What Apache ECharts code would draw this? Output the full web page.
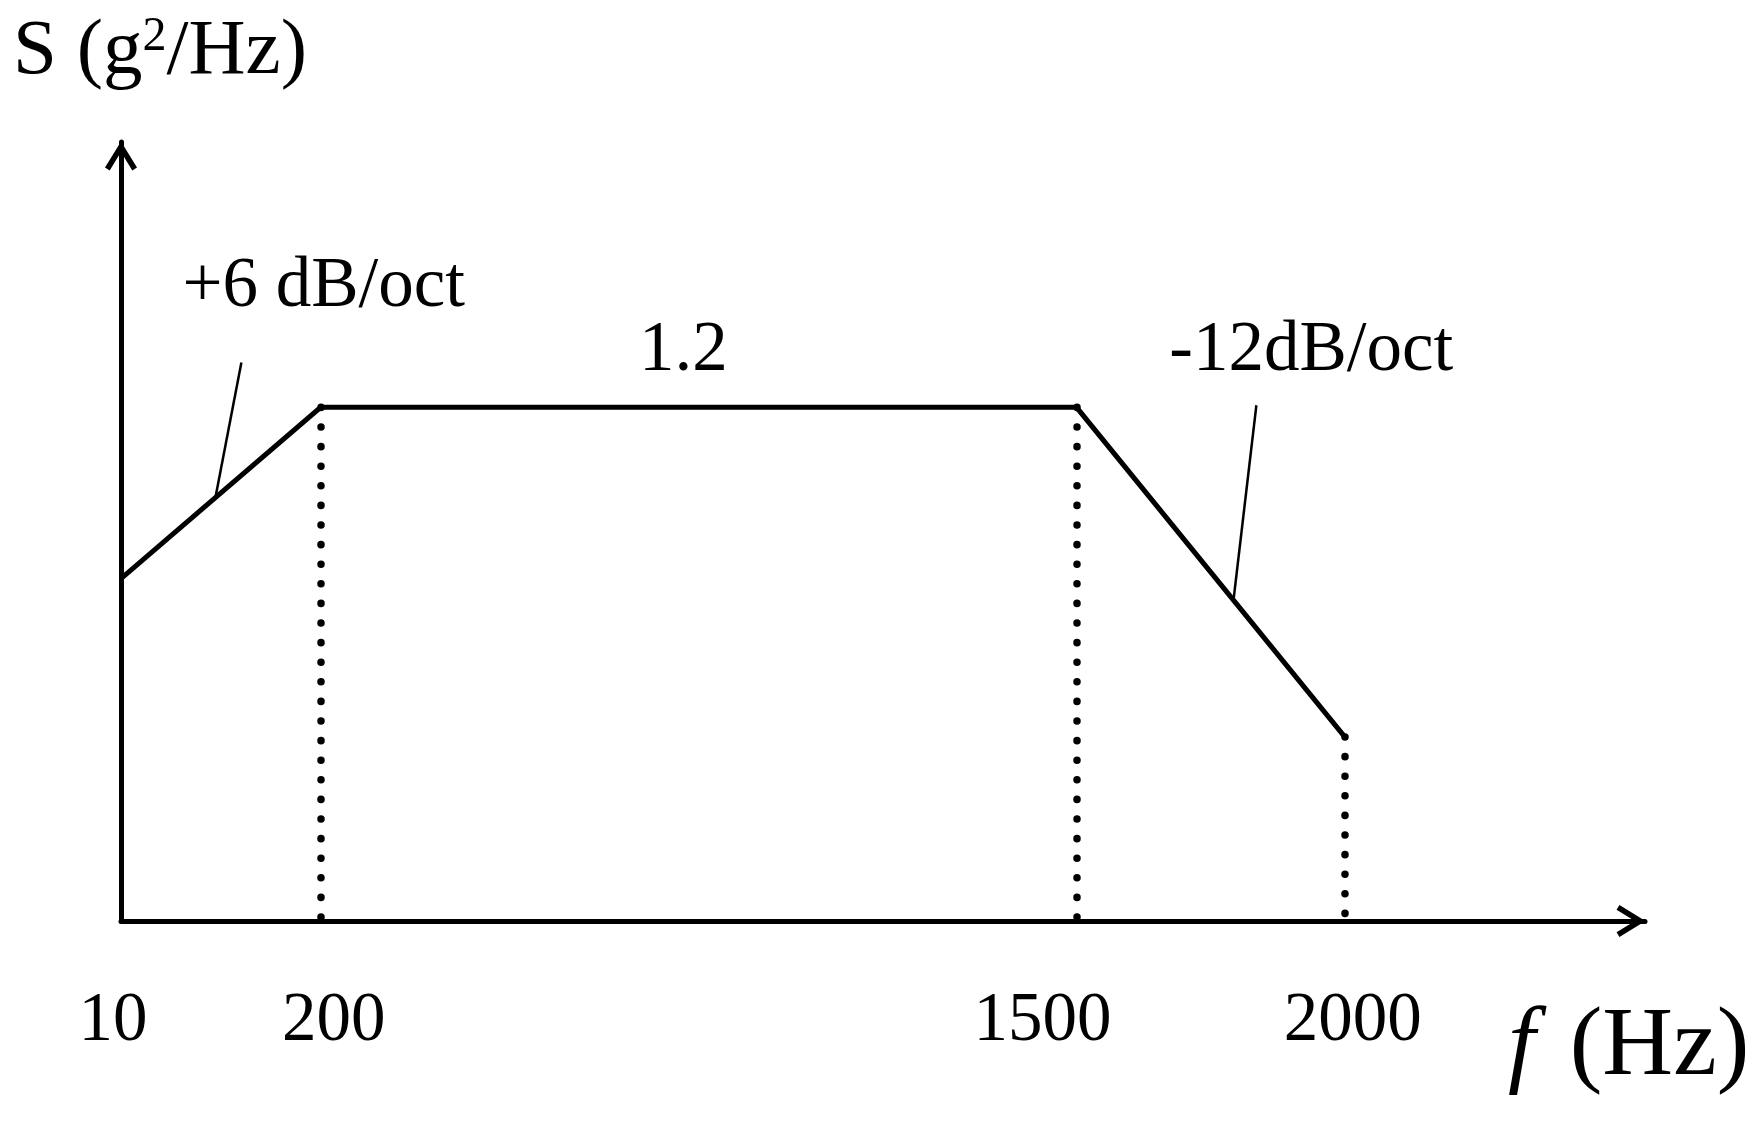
<!DOCTYPE html>
<html>
<head>
<meta charset="utf-8">
<title>PSD profile</title>
<script src="https://cdn.jsdelivr.net/npm/echarts@6/dist/echarts.min.js"></script>
<style>
  html, body { margin: 0; padding: 0; background: #fff; }
  #chart { width: 1763px; height: 1125px; }
</style>
</head>
<body>
<div id="chart"></div>
<script>
// break frequencies (Hz) and their tick labels
const freqs = [10, 200, 1500, 2000];
const freqLabels = ['10', '200', '1500', '2000'];
// where each break frequency sits along the f axis (0..100) - the sketch is not to scale
const freqPos = [0, 13.1, 62.7, 80.3];
// PSD level at each break frequency, g^2/Hz (plateau 1.2, the ends are schematic)
const psd = [0.8, 1.2, 1.2, 0.43];

// annotations: text, where it sits, and its leader line (text end -> curve)
const noteText = ['+6 dB/oct', '1.2', '-12dB/oct'];
const noteAt = [[13.3, 1.48], [36.9, 1.33], [78.1, 1.33]];
const leaderFrom = [[7.9, 1.305], null, [74.5, 1.205]];
const leaderTo = [[6.2, 0.99], null, [73.0, 0.75]];

const FONT = '"Liberation Serif", "Times New Roman", serif';
const INK = '#000';
// open chevron used as the axis arrow head (tip up, like the built-in arrow)
const chevron = 'path://M16 0 L32 26 L27.3 28.9 L16 10.5 L4.7 28.9 L0 26 Z';

const chart = echarts.init(document.getElementById('chart'));

// the tick labels are not centred on their ticks in the sketch, nudge them
const nudge = { '10': -8, '200': 13, '1500': -34, '2000': 8 };
const tickRich = {};
freqLabels.forEach(function (lab) {
    const d = nudge[lab] || 0;
    tickRich['t' + lab] = {
        fontFamily: FONT, fontSize: 69, color: INK,
        padding: d > 0 ? [0, 0, 0, 2 * d] : [0, -2 * d, 0, 0]
    };
});

const curve = freqPos.map(function (x, i) { return [x, psd[i]]; });

const guideLines = [];
for (let i = 1; i < freqPos.length; i++) {
    guideLines.push([
        { coord: [freqPos[i], psd[i]], lineStyle: { type: [0.1, 19.5], width: 7.5, cap: 'round' } },
        { coord: [freqPos[i], 0] }
    ]);
}
leaderFrom.forEach(function (p, i) {
    if (!p) return;
    guideLines.push([
        { coord: p, lineStyle: { type: 'solid', width: 2.5 } },
        { coord: leaderTo[i] }
    ]);
});

const axisArrow = {
    symbol: ['none', chevron],
    symbolSize: [32, 29],
    symbolOffset: [0, -14]
};

const option = {
    backgroundColor: '#fff',
    animation: false,
    grid: { left: 121, right: 118, top: 142, bottom: 204, outerBoundsMode: 'none' },
    xAxis: {
        type: 'value',
        min: 0,
        max: 100,
        name: '{f|f} (Hz)',
        nameLocation: 'end',
        nameGap: -137,
        nameTextStyle: {
            fontFamily: FONT, fontSize: 98, color: INK,
            align: 'left', verticalAlign: 'top', padding: [78, 0, 0, 0],
            rich: { f: { fontFamily: FONT, fontSize: 98, fontStyle: 'italic', color: INK, padding: [0, 10, 0, 0] } }
        },
        axisLine: Object.assign({ lineStyle: { color: INK, width: 5 } }, axisArrow),
        axisTick: { show: false },
        splitLine: { show: false },
        axisLabel: {
            customValues: freqPos,
            margin: 66,
            fontFamily: FONT, fontSize: 69, color: INK,
            formatter: function (v) {
                const lab = freqLabels[freqPos.indexOf(v)];
                return lab ? '{t' + lab + '|' + lab + '}' : '';
            },
            rich: tickRich
        }
    },
    yAxis: {
        type: 'value',
        min: 0,
        max: 1.82,
        name: 'S (g{s|2}/Hz)',
        nameLocation: 'end',
        nameGap: 50,
        nameTextStyle: {
            fontFamily: FONT, fontSize: 79, color: INK,
            align: 'center', padding: [0, 0, 0, 78],
            rich: { s: { fontFamily: FONT, fontSize: 48, color: INK, verticalAlign: 'top' } }
        },
        axisLine: Object.assign({ show: true, lineStyle: { color: INK, width: 5 } }, axisArrow),
        axisTick: { show: false },
        axisLabel: { show: false },
        splitLine: { show: false }
    },
    series: [{
        type: 'line',
        data: curve,
        symbol: 'none',
        lineStyle: { color: INK, width: 5, join: 'miter' },
        silent: true,
        markLine: {
            silent: true,
            symbol: ['none', 'none'],
            label: { show: false },
            lineStyle: { color: INK },
            emphasis: { disabled: true },
            data: guideLines
        },
        markPoint: {
            silent: true,
            symbol: 'rect',
            symbolSize: 1,
            itemStyle: { color: 'transparent' },
            label: {
                show: true,
                position: 'inside',
                formatter: '{b}',
                fontFamily: FONT, fontSize: 71, color: INK
            },
            data: noteText.map(function (t, i) {
                return { name: t, coord: noteAt[i] };
            })
        }
    }]
};

chart.setOption(option);
</script>
</body>
</html>
